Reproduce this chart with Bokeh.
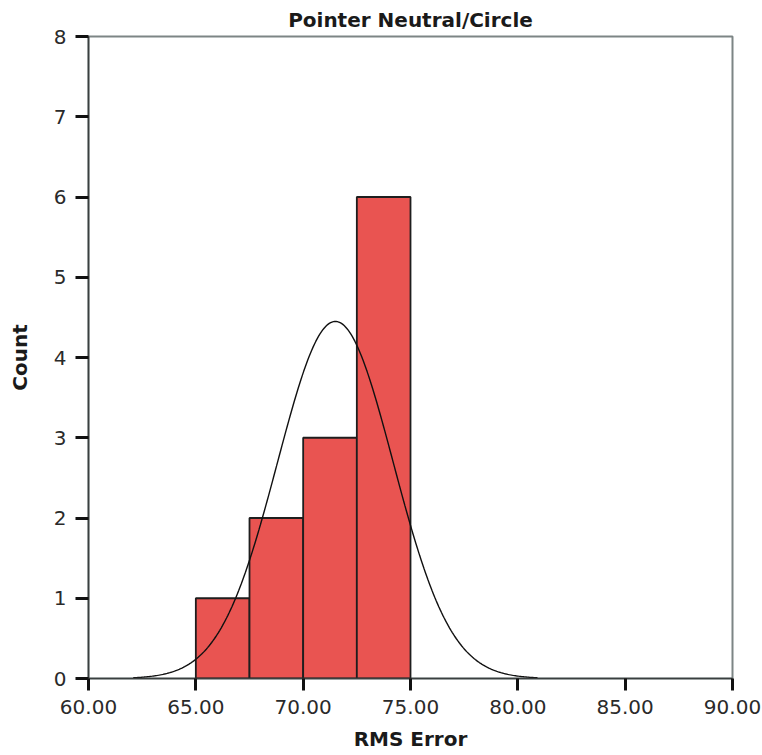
import numpy as np
from bokeh.plotting import figure
from bokeh.models import NumeralTickFormatter, FixedTicker, Range1d
from bokeh.embed import file_html
from bokeh.resources import INLINE

# Histogram data
bin_left = [65.0, 67.5, 70.0, 72.5]
bin_right = [67.5, 70.0, 72.5, 75.0]
counts = [1, 2, 3, 6]

# Fitted normal curve parameters
curve_mean = 71.5
curve_sd = 2.69
n_total = 12
bin_width = 2.5

x_ticks = [60, 65, 70, 75, 80, 85, 90]
y_ticks = [0, 1, 2, 3, 4, 5, 6, 7, 8]

p = figure(width=762, height=755, output_backend="svg", toolbar_location=None,
           x_range=Range1d(60, 90), y_range=Range1d(0, 8),
           min_border_left=88, min_border_right=30, min_border_top=35, min_border_bottom=77,
           title="Pointer Neutral/Circle")

p.title.align = "center"
p.title.text_font = "DejaVu Sans"
p.title.text_font_size = "20px"
p.title.text_font_style = "bold"
p.title.text_color = "#1a1a1a"

p.quad(left=bin_left, right=bin_right, bottom=0, top=counts,
       fill_color="#e95451", line_color="#1e1e1e", line_width=1.8)

xs = np.linspace(curve_mean - 3.5 * curve_sd, curve_mean + 3.5 * curve_sd, 300)
ys = n_total * bin_width * np.exp(-0.5 * ((xs - curve_mean) / curve_sd) ** 2) / (curve_sd * np.sqrt(2 * np.pi))
p.line(xs, ys, line_color="#111111", line_width=1.4)

p.xgrid.visible = False
p.ygrid.visible = False
p.outline_line_color = "#7d8585"
p.outline_line_width = 2
p.background_fill_color = "white"
p.border_fill_color = "white"

for ax in (p.xaxis[0], p.yaxis[0]):
    ax.axis_line_color = "#3a3f3f"
    ax.axis_line_width = 1.6
    ax.major_tick_in = 0
    ax.major_tick_out = 12
    ax.major_tick_line_width = 3
    ax.major_tick_line_color = "#111111"
    ax.minor_tick_line_color = None
    ax.major_label_text_font = "DejaVu Sans"
    ax.major_label_text_font_size = "20px"
    ax.major_label_text_color = "#2a2a2a"
    ax.axis_label_text_font = "DejaVu Sans"
    ax.axis_label_text_font_size = "20px"
    ax.axis_label_text_font_style = "bold"
    ax.axis_label_text_color = "#1a1a1a"

p.xaxis[0].ticker = FixedTicker(ticks=x_ticks)
p.xaxis[0].formatter = NumeralTickFormatter(format="0.00")
p.xaxis[0].axis_label = "RMS Error"
p.xaxis[0].major_label_standoff = 9
p.xaxis[0].axis_label_standoff = 10

p.yaxis[0].ticker = FixedTicker(ticks=y_ticks)
p.yaxis[0].axis_label = "Count"
p.yaxis[0].major_label_standoff = 9
p.yaxis[0].axis_label_standoff = 19
p.yaxis[0].major_tick_out = 13

open("out.html", "w").write(file_html(p, INLINE))
